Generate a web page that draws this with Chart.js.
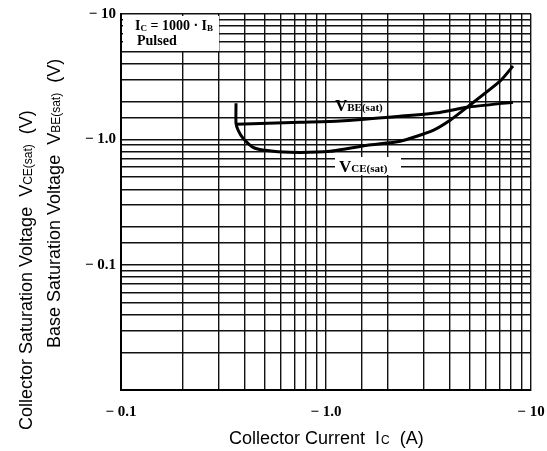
<!DOCTYPE html>
<html>
<head>
<meta charset="utf-8">
<script src="https://cdn.jsdelivr.net/npm/chart.js@4.4.1/dist/chart.umd.min.js"></script>
<style>
  body { margin: 0; background: #fff; }
  #wrap { width: 547px; height: 451px; }
</style>
</head>
<body>
<div id="wrap"><canvas id="myChart"></canvas></div>
<script>
// values (magnitudes, the labels carry the minus sign)
const vceX = [0.364, 0.364, 0.373, 0.394, 0.441, 0.503, 0.667, 1.05, 1.59, 2.30, 3.33, 4.03, 4.87, 7.06, 8.17];
const vceY = [1.94, 1.34, 1.18, 1.02, 0.863, 0.817, 0.787, 0.802, 0.896, 0.964, 1.18, 1.42, 1.80, 2.91, 3.84];
const vbeX = [0.364, 0.749, 1.17, 2.30, 3.60, 4.87, 8.17];
const vbeY = [1.32, 1.37, 1.40, 1.53, 1.64, 1.80, 1.98];

const xTickVals = [0.1, 1, 10];
const xTickText = ['\u2212 0.1', '\u2212 1.0', '\u2212 10'];
const yTickVals = [0.1, 1, 10];
const yTickText = ['\u2212 0.1', '\u2212 1.0', '\u2212 10'];

const ctx = document.getElementById('myChart');

function pts(xs, ys) {
  return xs.map((x, i) => ({ x: x, y: ys[i] }));
}

function tickLabel(vals, texts) {
  return function (v) {
    for (let i = 0; i < vals.length; i++) {
      if (Math.abs(v - vals[i]) / vals[i] < 1e-6) return texts[i];
    }
    return '';
  };
}

// draws "MAIN" followed by a smaller subscript, returns the end x
function subText(c, x, y, main, sub, bigFont, smallFont, drop) {
  c.font = bigFont;
  c.fillText(main, x, y);
  x += c.measureText(main).width;
  c.font = smallFont;
  c.fillText(sub, x, y + drop);
  return x + c.measureText(sub).width;
}

const extras = {
  id: 'extras',
  beforeDatasetsDraw(chart) {
    const c = chart.ctx;
    const a = chart.chartArea;
    c.save();
    c.fillStyle = '#fff';
    // condition box in top left corner
    c.fillRect(a.left + 2, a.top + 2, 96, 35);
    // gap behind the VCE(sat) label
    c.fillRect(335, 157, 66, 18);
    c.restore();
  },
  afterDatasetsDraw(chart) {
    const c = chart.ctx;
    c.save();
    c.fillStyle = '#000';
    c.textBaseline = 'alphabetic';
    const serifB = 'bold 14px "Liberation Serif", serif';
    const serifS = 'bold 9px "Liberation Serif", serif';
    // condition box text
    let x = subText(c, 135, 30, 'I', 'C', serifB, serifS, 1);
    c.font = serifB;
    c.fillText(' = 1000 \u00b7 I', x, 30);
    x += c.measureText(' = 1000 \u00b7 I').width;
    c.font = serifS;
    c.fillText('B', x, 31);
    c.font = serifB;
    c.fillText('Pulsed', 137, 45);
    // curve labels
    const lblBig = 'bold 17px "Liberation Serif", serif';
    const lblSmall = 'bold 11px "Liberation Serif", serif';
    subText(c, 335, 111, 'V', 'BE(sat)', lblBig, lblSmall, 0);
    subText(c, 339, 172, 'V', 'CE(sat)', lblBig, lblSmall, 0);
    c.restore();
  },
  afterDraw(chart) {
    const c = chart.ctx;
    c.save();
    c.fillStyle = '#000';
    const big = '18px "Liberation Sans", Arial, sans-serif';
    const small = '12px "Liberation Sans", Arial, sans-serif';
    // x axis title
    let x = 229;
    c.font = big;
    c.fillText('Collector Current  I', x, 444);
    x += c.measureText('Collector Current  I').width;
    c.font = small;
    c.fillText('C', x + 1, 444);
    x += c.measureText('C').width + 1;
    c.font = big;
    c.fillText('  (A)', x, 444);
    // y axis titles, rotated
    function vtitle(startY, baseX, a, sub, b) {
      c.save();
      c.translate(baseX, startY);
      c.rotate(-Math.PI / 2);
      c.font = big;
      c.fillText(a, 0, 0);
      let p = c.measureText(a).width;
      c.font = small;
      c.fillText(sub, p, 0);
      p += c.measureText(sub).width;
      c.font = big;
      c.fillText(b, p, 0);
      c.restore();
    }
    vtitle(430, 32, 'Collector Saturation Voltage  V', 'CE(sat)', '  (V)');
    vtitle(348, 60, 'Base Saturation Voltage  V', 'BE(sat)', '  (V)');
    c.restore();
  }
};

const tickFont = { family: '"Liberation Serif", serif', size: 15, weight: 'bold' };
const gridStyle = { color: '#111', lineWidth: 1.4, drawTicks: false };

new Chart(ctx, {
  type: 'line',
  data: {
    datasets: [
      {
        label: 'VCE(sat)',
        data: pts(vceX, vceY),
        borderColor: '#000',
        borderWidth: 3,
        pointRadius: 0,
        tension: 0.2,
        fill: false
      },
      {
        label: 'VBE(sat)',
        data: pts(vbeX, vbeY),
        borderColor: '#000',
        borderWidth: 3,
        pointRadius: 0,
        tension: 0.2,
        fill: false
      }
    ]
  },
  options: {
    responsive: true,
    maintainAspectRatio: false,
    animation: false,
    layout: { padding: { top: 14, right: 16, left: 0, bottom: 0 } },
    plugins: {
      legend: { display: false },
      tooltip: { enabled: false }
    },
    scales: {
      x: {
        type: 'logarithmic',
        min: 0.1,
        max: 10,
        grid: gridStyle,
        border: { display: true, color: '#000', width: 2 },
        ticks: {
          autoSkip: false,
          maxRotation: 0,
          padding: 13,
          color: '#000',
          font: tickFont,
          callback: tickLabel(xTickVals, xTickText)
        },
        afterFit: s => { s.height = 61; s.paddingLeft = 0; s.paddingRight = 0; }
      },
      y: {
        type: 'logarithmic',
        min: 0.01,
        max: 10,
        grid: gridStyle,
        border: { display: true, color: '#000', width: 2 },
        ticks: {
          autoSkip: false,
          padding: 5,
          color: '#000',
          font: tickFont,
          callback: tickLabel(yTickVals, yTickText)
        },
        afterFit: s => { s.width = 121; s.paddingTop = 0; s.paddingBottom = 0; }
      }
    }
  },
  plugins: [extras]
});
</script>
</body>
</html>
